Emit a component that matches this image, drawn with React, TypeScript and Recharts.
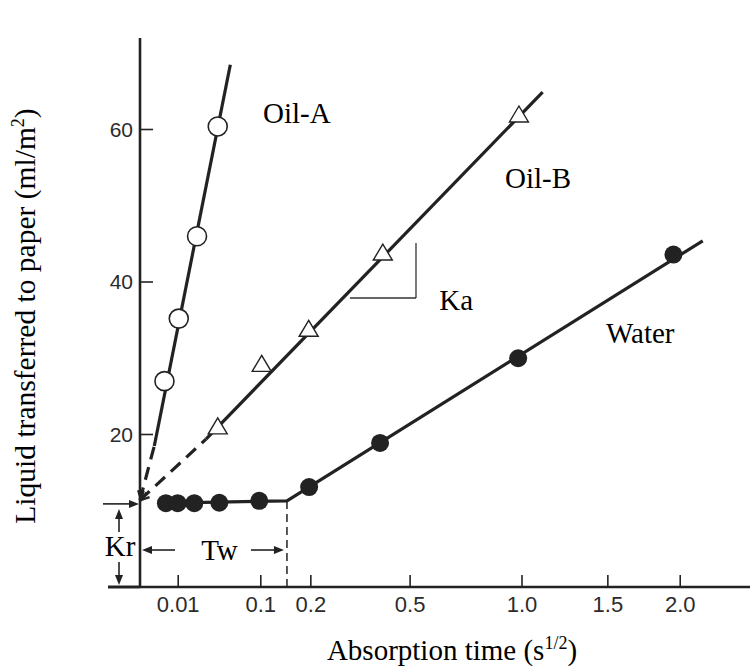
import React from "react";
import { ComposedChart, Scatter, XAxis, YAxis, ReferenceLine, ReferenceDot } from "recharts";

// t = absorption time (s), drawn on a square-root axis; v = liquid transferred (ml/m2)
const oilA = [
  { t: 0.0041, v: 27.0 },
  { t: 0.0103, v: 35.2 },
  { t: 0.0223, v: 46.0 },
  { t: 0.0414, v: 60.4 },
];
const oilB = [
  { t: 0.0414, v: 21.0 },
  { t: 0.1015, v: 29.2 },
  { t: 0.195, v: 33.8 },
  { t: 0.404, v: 43.8 },
  { t: 0.984, v: 61.9 },
];
const water = [
  { t: 0.0046, v: 11.0 },
  { t: 0.0097, v: 11.0 },
  { t: 0.0202, v: 11.0 },
  { t: 0.0431, v: 11.05 },
  { t: 0.0975, v: 11.3 },
  { t: 0.196, v: 13.1 },
  { t: 0.395, v: 18.9 },
  { t: 0.98, v: 30.0 },
  { t: 1.95, v: 43.6 },
];

// fitted lines and their dashed extrapolation back to t = 0
const oilAFit = [{ t: 0.0014, v: 18.5 }, { t: 0.0559, v: 68.5 }];
const oilAExtra = [{ t: 0, v: 11.4 }, { t: 0.0014, v: 18.5 }];
const oilBFit = [{ t: 0.0299, v: 19.4 }, { t: 1.111, v: 64.9 }];
const oilBExtra = [{ t: 0, v: 11.4 }, { t: 0.0299, v: 19.4 }];
const waterFit = [{ t: 0.0046, v: 11.0 }, { t: 0.148, v: 11.3 }, { t: 2.17, v: 45.4 }];

const xTicks = [0.01, 0.1, 0.2, 0.5, 1, 1.5, 2];
const xTickLabels = ["0.01", "0.1", "0.2", "0.5", "1.0", "1.5", "2.0"];
const yTicks = [20, 40, 60];

const kr = 10.9; // ml/m2, roughness index
const tw = 0.148; // s, wetting time

const ink = "#222";
const serif = "'Liberation Serif', 'Times New Roman', serif";
const sans = "'Liberation Sans', Arial, sans-serif";

const OpenCircle = (p: any) => (
  <circle cx={p.cx} cy={p.cy} r={9.5} fill="#fff" stroke={ink} strokeWidth={1.6} />
);
const OpenTriangle = (p: any) => (
  <polygon
    points={`${p.cx},${p.cy - 9} ${p.cx + 9.5},${p.cy + 7} ${p.cx - 9.5},${p.cy + 7}`}
    fill="#fff"
    stroke={ink}
    strokeWidth={1.4}
  />
);
const FilledDot = (p: any) => <circle cx={p.cx} cy={p.cy} r={9} fill={ink} />;
const NoShape = () => <g />;

const XTick = (p: any) => {
  const i = xTicks.indexOf(p.payload.value);
  return (
    <g>
      <line x1={p.x} y1={p.y} x2={p.x} y2={p.y - 12} stroke={ink} strokeWidth={1.6} />
      <text x={p.x} y={p.y + 25} textAnchor="middle" fontSize={22} fontFamily={sans} fill="#2b2b2b">
        {xTickLabels[i]}
      </text>
    </g>
  );
};

const YTick = (p: any) => (
  <g>
    <line x1={p.x} y1={p.y} x2={p.x + 13} y2={p.y} stroke={ink} strokeWidth={1.6} />
    <text x={p.x - 7} y={p.y + 7} textAnchor="end" fontSize={21} fontFamily={sans} fill="#2b2b2b">
      {p.payload.value}
    </text>
  </g>
);

const XTitle = (p: any) => (
  <text x={p.viewBox.x + 312} y={p.viewBox.y + 73} textAnchor="middle" fontSize={29} fontFamily={serif} fill="#000">
    <tspan>Absorption time (s</tspan>
    <tspan dy={-11} fontSize={18}>1/2</tspan>
    <tspan dy={11}>)</tspan>
  </text>
);

const YTitle = () => (
  <text x={35} y={316} transform="rotate(-90, 35, 316)" textAnchor="middle" fontSize={29.5} fontFamily={serif} fill="#000">
    <tspan>Liquid transferred to paper (ml/m</tspan>
    <tspan dy={-11} fontSize={18}>2</tspan>
    <tspan dy={11}>)</tspan>
  </text>
);

// Kr: arrow at the intercept level and the double arrow down to the axis
const KrMarks = (p: any) => {
  const x = p.x1;
  const top = Math.min(p.y1, p.y2);
  const bot = Math.max(p.y1, p.y2);
  const ax = x - 21;
  return (
    <g stroke={ink} fill={ink}>
      <line x1={x - 37} y1={top} x2={x - 8} y2={top} strokeWidth={1.6} />
      <polygon points={`${x - 1},${top} ${x - 11},${top - 4} ${x - 11},${top + 4}`} stroke="none" />
      <line x1={x - 32} y1={bot} x2={x} y2={bot} strokeWidth={3} />
      <line x1={ax} y1={top + 12} x2={ax} y2={top + 28} strokeWidth={1.6} />
      <polygon points={`${ax},${top + 5} ${ax - 4},${top + 15} ${ax + 4},${top + 15}`} stroke="none" />
      <line x1={ax} y1={bot - 25} x2={ax} y2={bot - 10} strokeWidth={1.6} />
      <polygon points={`${ax},${bot - 2} ${ax - 4},${bot - 12} ${ax + 4},${bot - 12}`} stroke="none" />
      <text x={x - 20} y={(top + bot) / 2 + 11} textAnchor="middle" fontSize={29} fontFamily={serif} stroke="none" fill="#000">
        Kr
      </text>
    </g>
  );
};

// Tw: arrows spanning from t = 0 to the wetting time
const TwMarks = (p: any) => {
  const left = Math.min(p.x1, p.x2);
  const right = Math.max(p.x1, p.x2);
  const y = p.y1;
  return (
    <g stroke={ink} fill={ink}>
      <line x1={left + 10} y1={y} x2={left + 35} y2={y} strokeWidth={1.6} />
      <polygon points={`${left + 2},${y} ${left + 12},${y - 4} ${left + 12},${y + 4}`} stroke="none" />
      <line x1={right - 36} y1={y} x2={right - 12} y2={y} strokeWidth={1.6} />
      <polygon points={`${right - 3},${y} ${right - 13},${y - 4} ${right - 13},${y + 4}`} stroke="none" />
      <text x={(left + right) / 2 + 6} y={y + 10} textAnchor="middle" fontSize={29} fontFamily={serif} stroke="none" fill="#000">
        Tw
      </text>
    </g>
  );
};

// small open arrowhead where a dashed extrapolation meets the axis
const ArrowTip = (p: any) => {
  const a = Math.atan2(p.y2 - p.y1, p.x2 - p.x1);
  const len = 10;
  const spread = 0.45;
  const ax = p.x1 + len * Math.cos(a - spread);
  const ay = p.y1 + len * Math.sin(a - spread);
  const bx = p.x1 + len * Math.cos(a + spread);
  const by = p.y1 + len * Math.sin(a + spread);
  return (
    <polyline
      points={`${ax},${ay} ${p.x1 + 1},${p.y1} ${bx},${by}`}
      fill="none"
      stroke={ink}
      strokeWidth={2.2}
    />
  );
};

const seriesLabel = (text: string) => (p: any) => (
  <text x={p.cx} y={p.cy} fontSize={29} fontFamily={serif} fill="#000">
    {text}
  </text>
);

const solid = { stroke: ink, strokeWidth: 3.2 };
const dashed = { stroke: ink, strokeWidth: 3.2, strokeDasharray: "13 8" };

export default function App() {
  return (
    <div style={{ position: "absolute", left: 0, top: 0, background: "#fff" }}>
      <ComposedChart width={750} height={669} margin={{ top: 38, right: 0, bottom: 42, left: 0 }}>
        <XAxis
          dataKey="t"
          type="number"
          scale="sqrt"
          domain={[0, 2.55]}
          ticks={xTicks}
          interval={0}
          height={40}
          tickSize={0}
          tickMargin={0}
          tickLine={false}
          tick={XTick}
          axisLine={{ stroke: ink, strokeWidth: 2.6 }}
          label={{ content: XTitle }}
        />
        <YAxis
          dataKey="v"
          type="number"
          domain={[0, 72]}
          ticks={yTicks}
          interval={0}
          width={140}
          tickSize={0}
          tickMargin={0}
          tickLine={false}
          tick={YTick}
          axisLine={{ stroke: ink, strokeWidth: 2.6 }}
          label={{ content: YTitle }}
        />

        <ReferenceLine segment={[{ x: tw, y: 0 }, { x: tw, y: 11.3 }]} stroke={ink} strokeWidth={1.5} strokeDasharray="8 5" ifOverflow="visible" />
        <ReferenceLine segment={[{ x: 0, y: kr }, { x: 0, y: 0 }]} ifOverflow="visible" shape={KrMarks} />
        <ReferenceLine segment={[{ x: 0, y: 4.85 }, { x: tw, y: 4.85 }]} ifOverflow="visible" shape={TwMarks} />
        <ReferenceLine segment={[{ x: 0.302, y: 37.9 }, { x: 0.522, y: 37.9 }]} stroke="#333" strokeWidth={1.3} ifOverflow="visible" />
        <ReferenceLine segment={[{ x: 0.522, y: 37.9 }, { x: 0.522, y: 45.1 }]} stroke="#333" strokeWidth={1.3} ifOverflow="visible" />

        <Scatter data={oilAExtra} line={dashed} fill={ink} shape={NoShape} isAnimationActive={false} />
        <Scatter data={oilAFit} line={solid} fill={ink} shape={NoShape} isAnimationActive={false} />
        <Scatter data={oilBExtra} line={dashed} fill={ink} shape={NoShape} isAnimationActive={false} />
        <Scatter data={oilBFit} line={solid} fill={ink} shape={NoShape} isAnimationActive={false} />
        <Scatter data={waterFit} line={solid} fill={ink} shape={NoShape} isAnimationActive={false} />

        <ReferenceLine segment={[oilAExtra[0], oilAExtra[1]].map((d) => ({ x: d.t, y: d.v }))} ifOverflow="visible" shape={ArrowTip} />
        <ReferenceLine segment={[oilBExtra[0], oilBExtra[1]].map((d) => ({ x: d.t, y: d.v }))} ifOverflow="visible" shape={ArrowTip} />

        <Scatter name="Oil-A" data={oilA} fill="#fff" shape={OpenCircle} isAnimationActive={false} />
        <Scatter name="Oil-B" data={oilB} fill="#fff" shape={OpenTriangle} isAnimationActive={false} />
        <Scatter name="Water" data={water} fill={ink} shape={FilledDot} isAnimationActive={false} />

        <ReferenceDot x={0.1037} y={60.8} r={0} ifOverflow="visible" shape={seriesLabel("Oil-A")} />
        <ReferenceDot x={0.913} y={52.3} r={0} ifOverflow="visible" shape={seriesLabel("Oil-B")} />
        <ReferenceDot x={0.6139} y={36.3} r={0} ifOverflow="visible" shape={seriesLabel("Ka")} />
        <ReferenceDot x={1.488} y={32.0} r={0} ifOverflow="visible" shape={seriesLabel("Water")} />
      </ComposedChart>
    </div>
  );
}
